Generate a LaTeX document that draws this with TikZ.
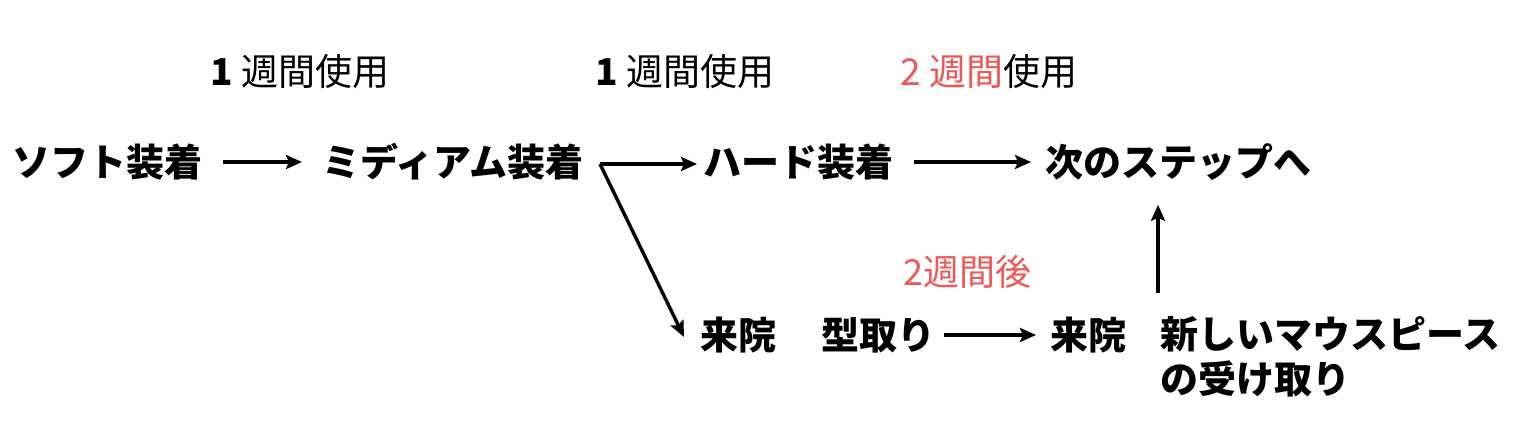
\documentclass[tikz,border=0pt]{standalone}
\usepackage{fontspec}
\setmainfont{Noto Sans CJK JP}
\usetikzlibrary{arrows.meta}
\definecolor{accent}{RGB}{238,88,88}
\begin{document}
\begin{tikzpicture}[x=0.5pt,y=-0.5pt,
  main/.style={font=\fontsize{19}{22.5}\selectfont\bfseries, inner sep=0pt, anchor=west},
  top/.style={font=\fontsize{18.5}{22}\selectfont, inner sep=0pt, anchor=west},
  conn/.style={line width=1.7pt, -{Stealth[length=8pt,width=7pt,inset=1.5pt]}}]
\useasboundingbox (0,0) rectangle (1530,448);
% top labels
\node[top] (t1) at (210,72) {\textbf{1} 週間使用};
\node[top] (t2) at (595,72) {\textbf{1} 週間使用};
\node[top] (t3) at (900,72) {\textcolor{accent}{2 週間}使用};
% row 1
\node[main] (soft) at (12,162) {ソフト装着};
\node[main] (med) at (322,162) {ミディアム装着};
\node[main] (hard) at (703,162) {ハード装着};
\node[main] (next) at (1045,162) {次のステップへ};
% row 2
\node[main] (mold) at (700,335) {来院\hspace{0.2em}　型取り};
\node[main] (visit) at (1050,335) {来院};
\node[main, anchor=north west, align=left] (recv) at (1160,316) {新しいマウスピース\\の受け取り};
\node[font=\fontsize{18}{22}\selectfont, text=accent, inner sep=0pt] (after) at (967,272) {2週間後};
% connectors
\coordinate (br) at (600,164);
\coordinate (up) at (1158,293);
\draw[conn] ([xshift=10pt]soft.east) -- ([xshift=-10pt]med.west);
\draw[conn] (br) -- ([xshift=-3pt]hard.west |- br);
\draw[conn] (br) -- ([xshift=-8pt,yshift=-1pt]mold.west);
\draw[conn] ([xshift=10pt]hard.east) -- ([xshift=-7pt]next.west);
\draw[conn] ([xshift=4pt]mold.east) -- ([xshift=-7pt]visit.west);
\draw[conn] (up) -- ([yshift=-12pt]next.south -| up);
\end{tikzpicture}
\end{document}
